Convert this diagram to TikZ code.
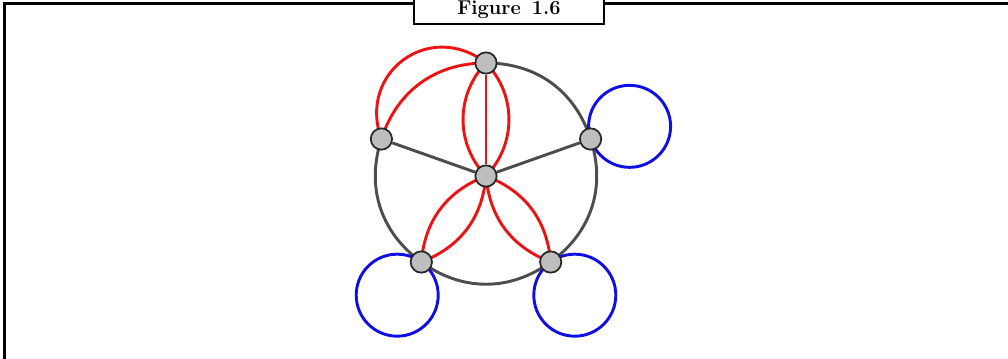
\documentclass[tikz,border=0pt]{standalone}
\usepackage{tikz}
\usetikzlibrary{backgrounds}

\definecolor{edgegray}{RGB}{77,77,77}
\definecolor{edgered}{RGB}{235,20,20}
\definecolor{edgeblue}{RGB}{15,15,225}
\definecolor{vertexfill}{RGB}{190,190,190}

\tikzset{
  vertex/.style={circle, draw=black!85, fill=vertexfill, line width=1.3pt, minimum size=16pt, inner sep=0pt},
  plainedge/.style={draw=edgegray, line width=2.2pt},
  multiedge/.style={draw=edgered, line width=2.2pt},
  loopedge/.style={draw=edgeblue, line width=2.2pt},
  titlebox/.style={draw=black, fill=white, line width=1.5pt, minimum width=142.5pt, minimum height=21pt, inner sep=0pt, font=\fontsize{15}{18}\selectfont\bfseries}
}

\begin{document}
\begin{tikzpicture}[x=0.75pt, y=0.75pt]
\useasboundingbox (0,0) rectangle (1008,358);
% frame
\draw[line width=2.25pt] (4,-10) -- (4,354.5) -- (1015,354.5);
\node[titlebox, anchor=south] (title) at (509,333) {Figure\hspace{0.55em}1.6};

% vertices
\node[vertex] (v1) at (486,295) {};
\node[vertex] (v2) at (381.4,219) {};
\node[vertex] (v3) at (421.3,96) {};
\node[vertex] (v4) at (550.7,96) {};
\node[vertex] (v5) at (590.6,219) {};
\node[vertex] (c) at (486,182) {};

% edges go under the vertices
\begin{pgfonlayer}{background}
% outer cycle
\draw[plainedge] (v1.center) to[bend left=36] (v5.center);
\draw[plainedge] (v5.center) to[bend left=36] (v4.center);
\draw[plainedge] (v4.center) to[bend left=36] (v3.center);
\draw[plainedge] (v3.center) to[bend left=36] (v2.center);
\draw[plainedge] (c) -- (v2);
\draw[plainedge] (c) -- (v5);

% parallel edges
\draw[multiedge] (v2.center) to[bend left=36] (v1.center);
\draw[multiedge] (v2.center) to[out=110, in=142, looseness=1.4] (v1.center);
\draw[multiedge] (v1) -- (c);
\draw[multiedge] (v1.center) to[bend left=44] (c.center);
\draw[multiedge] (v1.center) to[bend right=44] (c.center);
\draw[multiedge] (c.center) to[bend left=32] (v3.center);
\draw[multiedge] (c.center) to[bend right=32] (v3.center);
\draw[multiedge] (c.center) to[bend left=32] (v4.center);
\draw[multiedge] (c.center) to[bend right=32] (v4.center);

% loops
\draw[loopedge] (v5.center) ++(18:41) circle (41);
\draw[loopedge] (v3.center) ++(234:41) circle (41);
\draw[loopedge] (v4.center) ++(306:41) circle (41);
\end{pgfonlayer}
\end{tikzpicture}
\end{document}
